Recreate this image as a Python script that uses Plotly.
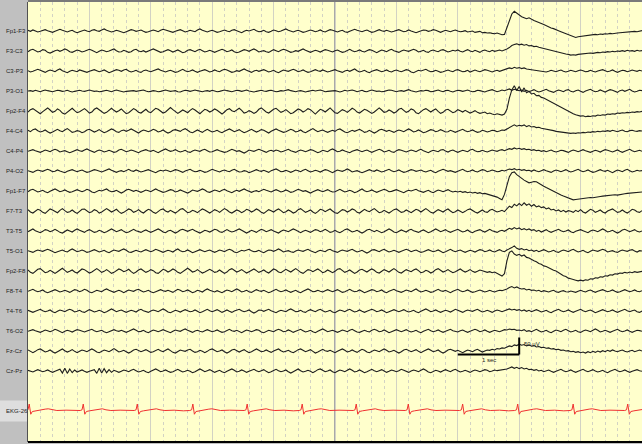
import numpy as np
import plotly.graph_objects as go

# ---------------- data (µV, sampled every 0.04 s over 10 s) ----------------
channel_names = ["Fp1-F3", "F3-C3", "C3-P3", "P3-O1", "Fp2-F4", "F4-C4", "C4-P4", "P4-O2",
                 "Fp1-F7", "F7-T3", "T3-T5", "T5-O1", "Fp2-F8", "F8-T4", "T4-T6", "T6-O2",
                 "Fz-Cz", "Cz-Pz"]
ekg_name = "EKG-26"
sample_dt = 0.04

fp1_f3 = [2,-1,3,0,-3,-1,2,4,1,-2,-4,-1,3,5,2,-1,-3,0,2,-2,-5,-2,1,3,0,
          -2,2,4,1,-1,3,6,2,-1,-3,-1,2,0,-3,-5,-2,1,4,2,-1,1,3,-1,-4,-2,
          0,3,1,-2,2,5,3,0,-2,-4,-1,2,4,1,-3,-1,2,0,-2,3,6,2,-1,-3,0,
          2,-1,-4,-2,1,3,0,-2,2,4,1,-3,-5,-1,2,0,3,5,1,-2,-1,2,-2,-4,-1,
          3,1,-2,0,4,6,2,-1,-3,0,2,-1,-4,-2,1,3,1,-2,0,3,-1,-3,1,4,2,
          -1,-3,0,2,-2,-4,-1,3,5,2,0,-2,1,3,-1,-4,-2,2,4,1,-1,2,0,-3,-1,
          2,4,1,-2,-1,3,0,-3,-5,-2,1,3,2,-1,1,4,2,-2,-4,-1,2,0,-2,1,3,
          0,-2,-1,1,-3,-2,0,-4,-3,-1,-5,-4,-6,-5,-7,-8,-6,-9,-11,-10,12,35,50,58,52,
          47,42,39,36,39,34,31,28,26,22,19,15,13,9,7,3,1,-2,-5,-8,-11,-14,-17,-19,-17,
          -16,-15,-13,-14,-12,-12,-10,-11,-9,-10,-8,-9,-7,-8,-6,-6,-5,-4,-5,-3,-3,-2,-1,-2,0,
          1]
f3_c3 = [-2,3,5,1,-3,-1,4,2,-4,-6,-2,1,3,-1,2,6,3,-2,-4,0,3,1,-3,-1,2,
         5,2,-2,-5,-1,3,1,-2,0,4,6,1,-3,-2,2,-1,-4,-2,3,5,0,-2,1,-3,-1,
         3,6,2,-1,-4,-2,1,4,1,-3,0,3,-1,-5,-3,2,4,1,-2,2,5,1,-3,-1,2,
         -1,-4,-1,3,5,2,-2,0,3,-2,-5,-3,1,4,2,-1,3,6,2,-3,-1,1,-2,-4,0,
         4,1,-2,2,5,3,-1,-4,-2,1,-1,3,6,2,-2,-4,-1,2,0,-3,1,4,2,-1,-3,
         1,3,-1,-4,-2,2,5,1,-2,0,3,-1,-3,1,4,2,-2,-5,-1,3,1,-2,2,5,1,
         -2,-4,0,3,1,-1,2,5,2,-3,-1,2,-2,-4,1,3,0,-2,2,4,1,-3,-1,2,0,
         3,-1,-3,1,4,0,-2,2,-1,-4,1,3,0,-2,2,-1,1,3,0,2,6,10,16,19,21,
         18,20,17,19,15,16,13,14,11,9,8,6,4,3,1,-1,-3,-5,-7,-9,-10,-12,-11,-12,-10,
         -9,-8,-9,-7,-6,-7,-5,-4,-5,-3,-4,-2,-3,-1,-2,0,-1,1,-1,2,0,1,-1,2,0,
         1]
c3_p3 = [1,-3,-1,2,5,2,-2,-4,0,3,1,-2,3,6,1,-3,-5,-1,2,0,-2,3,1,-1,-4,
         -1,2,4,1,-2,0,3,-1,-5,-2,1,4,2,-1,3,5,0,-3,-1,2,-2,-4,1,3,0,
         -2,1,4,6,2,-1,-3,0,2,-1,-4,-2,2,5,1,-2,0,3,-1,-4,-1,2,4,1,-3,
         -1,3,0,-2,2,5,3,-1,-4,-2,1,-1,3,6,2,-2,-4,0,2,-1,1,4,1,-3,-1,
         2,-2,-5,-1,3,1,-1,2,5,2,-2,0,3,-1,-4,-2,1,4,1,-1,3,0,-3,-1,2,
         4,1,-2,-4,0,2,-1,3,6,1,-3,-1,2,-2,-5,-1,2,4,1,-2,0,3,-1,-3,1,
         3,0,-2,1,4,2,-3,-5,-1,2,0,3,5,1,-2,-1,2,-1,-4,-2,1,3,0,-2,2,
         4,1,-2,-1,2,-3,-1,3,0,-2,1,4,2,-1,-3,0,2,-1,1,3,6,9,7,11,8,
         10,7,9,6,5,3,4,1,2,-1,0,-3,-1,2,0,-2,1,3,-1,-3,-1,2,0,-2,1,
         3,1,-2,-1,2,-1,-3,0,2,4,1,-2,0,3,-1,-4,-1,2,1,-2,0,3,1,-1,2,
         0]
p3_o1 = [0,1,-1,2,0,-2,1,3,1,-1,-2,0,2,1,-1,0,2,-1,-3,-1,1,2,0,-1,1,
         3,1,-1,0,-2,-1,1,2,0,-2,1,3,1,-1,-3,-1,0,2,1,-1,0,2,3,0,-2,
         -1,1,0,-2,-1,2,3,1,-1,0,1,-2,-3,0,2,1,-1,1,3,1,-1,-2,0,1,-1,
         2,0,-2,-1,1,3,1,-1,-2,0,2,1,-1,1,3,0,-2,-3,-1,1,2,0,-1,1,2,
         0,-2,-1,1,0,2,4,1,-1,-2,0,1,-1,-3,-1,1,2,0,1,3,1,-2,-1,0,2,
         1,-1,-3,-1,2,0,1,3,1,-2,0,2,-1,-2,1,3,1,-1,0,-2,-1,1,3,2,-1,
         -2,0,1,-1,2,4,1,-1,-3,-1,1,0,2,1,-2,-1,1,3,0,-2,1,2,-1,-3,0,
         2,1,-1,1,3,0,-2,-1,2,1,-1,-3,0,2,4,1,-2,0,3,1,4,6,2,5,3,
         1,3,-1,2,-2,1,4,0,-3,-1,2,5,1,-2,-4,0,3,1,-2,2,4,-1,-3,1,3,
         -1,-4,0,2,5,1,-2,-1,3,0,-3,1,4,2,-2,-4,1,3,-1,2,5,0,-3,-1,2,
         1]
fp2_f4 = [-3,4,7,2,-5,-8,-2,5,9,3,-4,-1,6,2,-6,-9,-3,4,8,1,-5,-2,3,7,1,
          -6,-3,5,9,4,-2,-7,-4,3,8,2,-3,1,6,-1,-8,-5,2,7,3,-4,-6,1,5,-2,
          -5,2,8,5,-1,-6,-3,4,10,4,-3,-7,-2,3,-1,-5,2,7,3,-4,-8,-1,5,2,-3,
          1,6,2,-5,-9,-3,4,7,1,-2,3,8,2,-6,-4,1,-2,-7,-3,5,9,3,-3,-6,0,
          5,8,1,-4,-1,4,-2,-8,-5,2,6,3,-3,1,7,4,-4,-9,-2,5,2,-3,3,9,2,
          -5,-7,-1,4,1,-4,2,8,4,-3,-6,0,5,2,-2,-7,-3,4,9,3,-4,-2,3,-1,-6,
          -2,5,8,2,-4,-1,6,3,-5,-8,-2,4,7,1,-3,2,6,-1,-7,-4,3,5,0,-5,-2,
          4,1,-3,2,-2,-6,-3,1,-4,-7,-5,-3,-8,-6,-9,-11,-8,-10,-12,-9,5,38,62,74,60,
          72,56,68,54,58,50,52,45,46,40,38,34,30,27,22,18,14,10,6,3,-1,-4,-8,-11,-13,
          -15,-14,-17,-15,-16,-14,-15,-12,-13,-11,-12,-9,-10,-8,-9,-6,-7,-5,-6,-4,-5,-3,-4,-2,-3,
          -1]
f4_c4 = [2,-2,4,6,1,-3,-1,3,-2,-6,-3,2,5,1,-2,3,7,2,-4,-2,1,-1,-5,-2,3,
         5,1,-3,0,4,-1,-5,-2,2,6,3,-2,-4,1,3,-1,2,6,2,-3,-6,-1,3,1,-2,
         1,5,2,-3,-1,3,-2,-6,-3,2,4,1,-1,4,7,2,-3,-5,0,3,-1,-4,1,5,1,
         -3,-1,2,-2,-5,-1,3,6,2,-2,1,4,-1,-5,-2,2,5,1,-3,0,4,2,-2,-6,-1,
         3,6,2,-1,-4,-2,1,5,2,-3,-1,3,-2,-5,-1,4,7,2,-2,1,3,-1,-4,-1,2,
         -1,4,6,1,-3,-5,-1,2,-1,3,5,1,-4,-2,2,-2,-6,-2,3,5,1,-1,2,-2,-4,
         0,3,1,-2,2,6,2,-3,-1,3,-1,-5,-3,1,4,2,-2,0,4,1,-3,-2,2,-1,-4,
         -1,3,5,1,-2,0,3,-1,-4,-2,2,0,-3,-1,2,1,-2,0,3,2,6,11,15,18,14,
         17,15,18,13,16,12,13,10,11,8,7,6,3,4,1,-1,-2,-4,-3,-6,-5,-7,-6,-7,-5,
         -6,-4,-5,-3,-4,-2,-3,-1,-2,0,-1,1,-1,2,0,-2,1,3,-1,-2,1,2,0,-1,1,
         0]
c4_p4 = [-1,2,4,1,-2,-4,-1,3,1,-2,2,5,2,-3,-1,1,-2,-5,-2,2,4,1,-1,3,6,
         2,-2,-4,0,3,1,-3,-1,2,-1,-4,-2,3,5,1,-2,0,3,1,-2,-5,-1,2,4,1,
         -1,2,-2,-5,-1,3,6,2,-1,1,4,0,-3,-1,2,-2,-4,0,3,1,-1,3,5,1,-3,
         -2,1,4,1,-1,-4,-2,2,5,2,-1,1,-2,-6,-2,3,1,-1,2,5,2,-2,-4,0,2,
         -1,3,1,-3,-1,2,5,1,-2,-4,0,3,1,-2,1,4,2,-1,-5,-2,2,0,-2,3,6,
         2,-2,-1,3,0,-3,-5,-1,2,4,1,-2,1,3,-1,-4,-1,2,5,2,-3,-1,2,-2,-4,
         1,4,2,-1,-3,0,3,1,-2,2,5,1,-3,-5,-1,2,0,-2,3,4,0,-3,1,3,-1,
         -4,-1,2,0,-2,3,5,1,-2,-1,2,-1,-3,0,3,1,-1,2,4,1,4,7,5,9,6,
         8,5,7,4,5,2,4,1,2,-1,1,-2,0,3,-1,-3,-1,2,1,-2,-4,0,3,1,-2,
         1,4,1,-2,-4,-1,2,0,-3,1,4,2,-1,-3,0,3,-1,-4,-1,2,5,1,-2,0,2,
         -1]
p4_o2 = [1,-2,-4,0,3,1,-1,2,5,2,-2,-1,3,0,-3,-5,-1,2,4,1,-2,1,3,-1,-4,
         -2,1,4,2,-1,-3,0,3,6,2,-2,-4,-1,1,-2,2,5,1,-1,3,0,-3,-1,2,4,
         1,-3,-5,-1,2,0,3,1,-2,1,4,2,-2,-4,0,3,5,1,-2,-1,2,-1,-4,-2,2,
         5,2,-1,-3,1,3,0,-2,2,5,1,-3,-2,1,-1,-5,-2,2,4,1,-1,2,-2,-4,1,
         3,6,2,-2,-1,2,-1,-4,-1,3,1,-2,2,5,1,-3,-1,2,0,-3,1,4,2,-2,-5,
         -1,3,1,-1,2,6,2,-3,-1,1,-2,-5,-2,2,4,1,-1,3,0,-3,-1,2,5,1,-2,
         0,3,-1,-4,-2,1,4,2,-1,1,3,-1,-3,0,2,-2,-5,-1,3,5,2,-1,1,-2,-4,
         -1,2,5,1,-2,0,3,-1,-3,1,4,2,-2,0,3,1,-2,-1,2,0,3,6,4,7,3,
         5,2,4,1,2,-1,3,0,-2,1,4,1,-2,-4,0,3,1,-2,1,4,0,-3,-1,2,5,
         1,-2,0,3,-1,-4,-2,2,4,1,-1,2,-2,-5,-1,3,1,-2,2,5,1,-3,-1,2,0,
         1]
fp1_f7 = [-2,3,5,1,-3,-1,2,-2,-5,-1,3,6,2,-2,0,3,-1,-4,-2,2,4,1,-2,1,5,
          2,-3,-5,-1,2,0,3,6,1,-2,-1,2,-2,-6,-2,3,5,1,-1,2,-1,-4,-1,3,1,
          -2,2,6,2,-1,-4,-2,1,4,2,-3,-1,3,0,-3,-6,-2,3,1,-1,2,6,3,-2,-4,
          0,3,1,-2,2,5,1,-3,-5,-1,2,-1,3,6,2,-2,-4,-1,1,-2,2,5,2,-1,-3,
          1,4,1,-3,-1,3,0,-4,-2,2,5,2,-1,1,-3,-6,-2,2,4,1,-2,1,4,0,-3,
          -2,2,5,1,-3,-1,2,-1,-5,-2,3,6,1,-2,0,3,-1,-4,-1,2,5,2,-2,-1,1,
          4,1,-3,-5,-1,2,0,3,5,1,-2,-4,-1,2,-2,-5,-1,3,1,-2,1,4,0,-3,-1,
          -3,-1,-4,-2,-5,-3,-6,-4,-7,-5,-8,-7,-9,-10,-12,-14,-18,-22,-26,-10,20,42,54,56,48,
          42,36,32,28,24,26,28,27,22,18,14,10,6,2,-1,-4,-8,-12,-15,-18,-22,-24,-26,-25,-24,
          -22,-23,-21,-21,-19,-20,-18,-17,-16,-15,-14,-13,-14,-12,-11,-12,-10,-9,-8,-7,-6,-7,-5,-4,-4,
          -3]
f7_t3 = [4,-3,-6,1,5,2,-4,-7,0,6,3,-2,-5,2,7,1,-4,-2,3,-3,-7,-1,5,6,-1,
         -5,-2,4,1,-6,-3,3,7,2,-3,1,5,-2,-7,-4,2,6,3,-4,-1,4,-2,-6,0,5,
         2,-4,-7,-1,4,6,0,-3,2,-2,-6,-1,5,7,1,-5,-3,2,-1,-5,1,6,3,-2,-6,
         -1,4,1,-4,2,7,3,-3,-6,-2,3,0,-5,-1,5,2,-3,1,6,2,-4,-7,-2,4,1,
         -3,2,6,1,-5,-2,3,-1,-6,-3,4,7,2,-4,-1,3,-3,-7,-2,5,3,-2,2,6,0,
         -5,-7,-1,4,2,-3,1,6,3,-4,-6,0,5,1,-2,3,7,1,-5,-3,2,-2,-6,-1,4,
         6,1,-4,-2,3,-1,-5,0,5,2,-3,2,7,2,-4,-6,-1,4,1,-3,2,6,0,-5,-2,
         3,-1,-5,-1,4,6,1,-3,-6,-1,3,-2,-4,2,5,1,-3,-1,2,-2,6,14,10,20,15,
         22,16,24,17,21,14,19,12,15,10,12,6,9,3,5,0,3,-2,2,-3,1,-1,-4,2,-2,
         4,-3,-6,1,5,2,-4,-1,3,-3,-6,0,4,6,1,-4,-2,3,-2,-6,-1,5,3,-2,-4,
         1]
t3_t5 = [-2,3,6,1,-3,-5,-1,4,2,-2,1,5,1,-4,-6,-1,3,0,-3,2,6,2,-2,-4,1,
         4,0,-4,-2,2,-1,-5,-2,3,6,2,-2,1,4,-1,-5,-3,2,5,1,-2,-4,0,3,-1,
         -4,-1,3,6,2,-3,-5,0,2,-2,-6,-2,3,5,1,-1,2,5,1,-3,-6,-2,2,0,-3,
         1,5,3,-2,-4,1,4,0,-3,-1,3,6,2,-3,-6,-2,2,-1,-4,1,5,2,-2,1,4,
         0,-4,-6,-1,3,1,-2,2,6,3,-2,-5,-1,2,-1,-4,0,4,2,-2,1,5,1,-4,-2,
         2,-2,-5,-1,4,6,1,-3,-1,2,-2,-6,-2,3,5,1,-2,2,-1,-5,-2,2,6,2,-3,
         -5,-1,3,0,-3,2,5,1,-2,-4,0,3,-1,-5,-2,3,6,2,-2,1,4,-1,-4,-1,2,
         5,1,-3,-1,3,-2,-5,-1,2,4,0,-3,1,5,1,-2,-4,0,2,-1,4,8,5,10,6,
         9,4,7,3,6,2,4,-1,2,-3,1,4,-1,-4,-1,3,5,1,-2,0,3,-2,-5,-1,2,
         4,1,-3,-5,0,3,1,-2,2,6,2,-3,-1,2,-2,-6,-2,3,5,1,-2,1,4,-1,-3,
         0]
t5_o1 = [1,-2,-4,0,3,1,-1,2,5,2,-2,-5,-2,1,3,-1,-3,2,6,2,-2,0,3,0,-4,
         -2,2,4,1,-3,-1,2,-2,-5,-1,3,1,-1,3,6,2,-3,-4,0,2,-1,-3,1,4,1,
         -2,1,5,2,-2,-4,-1,2,0,-3,2,6,1,-2,-1,3,-1,-5,-2,2,4,1,-2,1,3,
         -1,-4,-1,3,1,-2,2,5,2,-3,-5,-1,2,0,3,5,1,-2,-1,2,-2,-5,-1,3,2,
         -1,2,6,2,-3,-1,1,-2,-4,0,3,1,-1,2,5,1,-3,-5,-1,2,0,-2,3,5,1,
         -2,-4,0,3,1,-1,2,5,1,-3,-1,2,-2,-6,-2,3,4,0,-2,2,5,1,-3,-1,2,
         -1,-4,-1,2,5,2,-2,1,3,-1,-4,-2,2,4,1,-2,0,3,-1,-5,-2,2,5,1,-2,
         1,3,-1,-4,-1,2,0,-3,1,4,2,-2,0,3,-1,-3,1,4,0,-2,3,6,10,15,8,
         5,7,3,5,1,3,-1,2,-2,1,4,1,-3,-1,2,-2,-4,0,3,1,-2,2,5,1,-3,
         -1,2,-2,-5,-1,3,1,-1,2,5,2,-3,-1,1,-2,-4,0,3,1,-1,2,4,0,-3,1,
         0]
fp2_f8 = [3,-4,-7,-1,5,7,1,-5,-3,2,-2,-7,-2,4,8,2,-4,-1,3,-3,-6,0,6,4,-2,
          -6,-3,3,7,2,-4,-1,4,-1,-7,-4,2,6,3,-2,1,5,-2,-7,-3,3,6,1,-4,-1,
          4,1,-5,-7,-1,5,2,-3,1,6,2,-4,-7,-2,3,8,3,-3,-1,4,-1,-6,-3,2,5,
          1,-4,-2,3,-2,-7,-3,4,7,2,-3,0,4,-1,-6,-2,3,6,1,-4,-1,3,-2,-6,0,
          6,3,-3,-5,1,5,1,-3,2,7,2,-4,-7,-1,4,2,-2,2,6,1,-5,-2,3,-1,-5,
          -1,5,7,1,-4,-1,3,-2,-7,-3,3,5,0,-3,2,6,2,-4,-6,0,4,1,-3,2,7,
          2,-4,-6,-1,4,1,-2,3,6,1,-5,-3,2,-1,-6,-2,4,7,2,-3,0,4,-1,-5,-2,
          3,6,1,-3,0,4,-1,-4,-1,3,1,-2,-4,-2,-5,-3,-7,-10,-15,-8,30,55,59,50,46,
          49,44,47,40,38,33,30,27,22,20,15,13,9,7,2,0,-5,-9,-14,-16,-21,-23,-26,-27,-29,
          -27,-29,-26,-27,-23,-24,-20,-21,-17,-18,-14,-15,-11,-12,-8,-9,-6,-7,-4,-6,-3,-5,-2,-4,-2,
          -1]
f8_t4 = [-1,3,5,1,-2,0,3,-2,-5,-2,2,4,1,-3,-1,2,-1,-4,0,4,2,-2,1,5,2,
         -3,-5,-1,2,0,-2,3,6,2,-2,-4,-1,2,-1,-5,-1,3,1,-1,3,5,1,-3,-1,2,
         -2,-5,-2,2,4,1,-1,2,-2,-4,1,5,2,-2,0,3,-1,-5,-2,2,0,-3,2,6,2,
         -1,-3,1,-2,-5,-1,3,1,-2,2,6,2,-3,-1,2,-2,-4,0,4,1,-1,2,-1,-5,-2,
         2,5,1,-2,0,3,-1,-4,-1,2,-2,-5,-1,3,6,2,-2,-1,2,-1,-3,1,4,1,-2,
         1,4,0,-4,-2,2,5,1,-2,-1,3,-1,-5,-2,1,4,2,-2,0,3,-2,-5,-1,2,5,
         1,-2,-4,-1,3,1,-2,2,6,1,-3,-1,2,-1,-4,-2,2,5,1,-1,2,-2,-5,-1,3,
         5,1,-2,0,3,-1,-4,-2,1,3,0,-3,-1,2,-1,-3,0,2,1,3,6,10,13,9,12,
         8,6,7,3,5,2,3,0,2,-2,1,-1,-3,0,2,-2,-4,-1,1,-2,-3,0,-2,-4,-1,
         2,-1,-3,1,3,-1,-4,-1,2,4,1,-2,0,3,-1,-4,-2,2,4,1,-2,0,3,-1,-2,
         1]
t4_t6 = [2,-1,-4,-1,3,5,1,-2,0,3,-2,-5,-1,3,1,-2,2,5,2,-3,-1,2,-2,-4,0,
         4,1,-3,-1,2,-1,-5,-2,3,6,2,-2,1,3,-1,-4,-1,2,0,-3,2,5,1,-2,-4,
         0,3,1,-2,2,6,2,-3,-5,-1,2,0,-3,1,4,1,-2,-1,3,-1,-5,-2,2,5,1,
         -2,1,4,0,-4,-1,3,-1,-4,0,3,5,1,-2,0,3,-2,-6,-2,3,2,-1,2,5,1,
         -3,-5,-1,2,0,-2,3,6,2,-2,-1,2,-2,-4,1,4,1,-2,2,5,1,-3,-1,2,-3,
         -5,-1,3,1,-2,2,5,1,-3,-1,3,-1,-4,-1,2,5,2,-2,0,3,-1,-5,-2,2,4,
         1,-2,1,4,0,-3,-1,2,-2,-5,-1,3,6,2,-2,0,3,-1,-4,-1,2,0,-3,1,5,
         2,-2,-4,0,3,1,-1,2,5,1,-3,-1,2,-1,-4,0,3,1,-2,1,4,6,3,5,2,
         4,0,3,-1,2,-2,1,4,1,-3,-1,2,-2,-5,-1,3,5,1,-2,0,3,-1,-4,-1,2,
         5,1,-2,1,3,-1,-5,-2,2,4,1,-2,0,3,-1,-4,-1,3,5,1,-2,1,3,-2,-4,
         0]
t6_o2 = [-1,2,4,1,-2,-4,-1,3,1,-2,1,5,2,-2,-5,-1,2,0,-3,1,4,2,-1,-3,0,
         3,5,1,-2,0,2,-2,-5,-2,2,4,1,-1,2,-1,-4,-1,3,6,2,-2,-1,2,-2,-5,
         -1,3,1,-2,1,4,1,-3,-5,-1,3,1,-1,3,6,2,-2,-4,0,2,-1,-3,1,4,1,
         -2,0,3,-1,-4,-2,2,5,1,-1,2,-2,-5,-1,3,1,-2,1,4,2,-3,-5,-1,2,0,
         -2,2,5,2,-2,-1,3,0,-4,-1,2,5,1,-3,-1,2,-2,-5,-1,3,6,2,-2,0,2,
         -1,-4,-1,3,1,-2,2,5,1,-3,-4,0,2,-1,-3,2,5,2,-2,-1,3,-1,-5,-2,2,
         4,1,-2,1,4,0,-3,-1,2,-2,-5,-1,3,5,1,-2,0,3,-1,-4,-1,2,5,1,-2,
         -3,1,3,-1,-4,-1,2,5,2,-2,0,3,-1,-4,-1,2,0,-2,1,4,3,6,4,5,2,
         3,1,4,-1,1,-2,2,5,1,-3,-1,2,-2,-5,-1,3,1,-2,2,5,1,-3,-1,2,-2,
         -4,0,3,1,-2,2,6,2,-3,-1,2,-1,-4,-1,3,5,1,-2,0,3,-1,-4,-1,2,1,
         -1]
fz_cz = [3,-2,-5,-1,4,6,2,-3,-1,3,-2,-6,-2,3,6,1,-3,0,4,-1,-5,-1,3,1,-2,
         2,6,2,-3,-5,-1,3,1,-2,2,7,2,-3,-1,2,-2,-6,-2,3,5,1,-2,1,4,0,
         -4,-2,2,5,1,-2,2,6,1,-4,-6,-1,3,1,-1,3,5,0,-4,-2,2,-1,-5,-1,4,
         6,2,-2,0,3,-2,-6,-2,3,5,1,-3,1,4,-1,-5,-2,2,6,2,-2,-1,3,-1,-4,
         0,3,6,1,-3,-1,2,-2,-5,-1,4,6,2,-2,1,4,-1,-6,-3,2,5,1,-1,2,-2,
         -5,-1,3,6,2,-3,-1,3,-1,-4,1,5,2,-3,-5,0,3,1,-2,2,6,2,-3,-1,2,
         -2,-6,-2,3,5,1,-2,1,4,-1,-5,-1,3,6,2,-2,0,3,-2,-6,-2,3,5,1,-1,
         2,-2,-5,-1,3,1,-2,2,5,1,-3,0,3,2,5,3,7,6,9,8,12,15,13,18,16,
         20,17,19,15,18,14,16,12,13,10,11,8,9,6,7,4,5,2,3,0,1,-2,-1,-4,-2,
         -5,-3,-6,-2,-5,-1,-4,0,-3,1,-2,2,-1,3,0,-2,1,3,-1,-3,0,2,-2,1,3,
         0]
cz_pz = [2,-1,-3,1,4,1,-2,0,3,-1,-4,-1,2,5,-6,8,-7,6,-5,3,-3,1,3,-1,-4,
         -1,2,4,-7,8,-6,7,-5,4,-4,2,-1,-4,-1,3,1,-2,2,5,1,-3,-1,2,-2,-5,
         -1,3,6,2,-2,0,3,-1,-4,-2,2,5,1,-3,-1,2,-1,-5,-2,3,6,2,-2,1,4,
         0,-4,-1,2,-2,-5,-1,3,6,2,-3,-1,3,0,-4,-1,2,5,1,-2,1,4,-1,-5,-2,
         2,5,1,-2,0,3,-2,-6,-2,3,6,1,-3,-1,2,-1,-5,-1,4,6,2,-2,0,3,-2,
         -5,-1,3,1,-2,2,6,2,-3,-1,3,-1,-5,-2,2,5,1,-2,1,4,0,-4,-1,3,1,
         -2,1,5,2,-2,-4,0,3,1,-2,2,6,2,-3,-5,-1,2,0,-3,1,4,1,-2,2,5,
         1,-3,-1,2,-1,-4,0,3,1,-2,1,4,2,-2,0,3,1,2,4,3,6,9,12,8,11,
         7,10,6,8,4,5,2,4,0,2,-2,1,3,-1,-4,-1,2,5,1,-2,0,3,-1,-4,-1,
         2,5,1,-2,1,4,0,-3,-1,2,-2,-5,-1,3,5,1,-2,0,3,-1,-4,-1,2,4,1,
         -1]

# EKG: R-peak times (s) and one beat shape (offset s, value)
ekg_beat_times = [0.02, 0.90, 1.78, 2.685, 3.57, 4.466, 5.346, 6.194, 7.079, 7.976, 8.879, 9.768]
beat_offsets = [-0.05, -0.02, 0.0, 0.025, 0.05, 0.10, 0.18, 0.26, 0.31, 0.37, 0.45, 0.60, 0.75]
beat_values = [0, 2, 19, -11, -3, -1, 1, 4, 5, 2, 0, 1, -1]

eeg_data = [fp1_f3, f3_c3, c3_p3, p3_o1, fp2_f4, f4_c4, c4_p4, p4_o2,
            fp1_f7, f7_t3, t3_t5, t5_o1, fp2_f8, f8_t4, t4_t6, t6_o2, fz_cz, cz_pz]

# ---------------- drawing ----------------
GAIN = 0.34          # px per µV
ROW0, ROW_STEP = 31, 20
EKG_ROW = 410.5

fig = go.Figure()
for i, vals in enumerate(eeg_data):
    base = ROW0 + ROW_STEP * i
    t = np.arange(len(vals)) * sample_dt
    fig.add_trace(go.Scatter(x=t, y=base - np.array(vals) * GAIN, mode="lines",
                             line=dict(color="#1e1e1e", width=1.1), hoverinfo="skip",
                             showlegend=False))

ekg_t, ekg_v = [], []
for bt in ekg_beat_times:
    for off, val in zip(beat_offsets, beat_values):
        ekg_t.append(bt + off)
        ekg_v.append(val)
fig.add_trace(go.Scatter(x=ekg_t, y=EKG_ROW - np.array(ekg_v) * GAIN, mode="lines",
                         line=dict(color="#f03030", width=1), hoverinfo="skip",
                         showlegend=False))

# channel labels
lab_font = dict(family="Liberation Sans, Arial", size=6, color="#222222")
for i, name in enumerate(channel_names):
    fig.add_annotation(x=-24 / 614, xref="paper", y=ROW0 + ROW_STEP * i, yref="y",
                       text=name, showarrow=False, xanchor="left", yanchor="middle",
                       font=lab_font)
fig.add_annotation(x=-24 / 614, xref="paper", y=EKG_ROW, yref="y", text=ekg_name,
                   showarrow=False, xanchor="left", yanchor="middle", font=lab_font)

shapes = []
# EKG label box
shapes.append(dict(type="rect", xref="paper", yref="y", x0=-28 / 614, x1=0, y0=400.5, y1=421.5,
                   fillcolor="#dedede", line=dict(width=0), layer="below"))
# 5-second marker line
shapes.append(dict(type="line", xref="x", yref="paper", x0=5, x1=5, y0=0, y1=1,
                   line=dict(color="#a8a8a8", width=2), layer="below"))
# top and bottom borders
shapes.append(dict(type="rect", xref="paper", yref="paper", x0=0, x1=1, y0=1, y1=1 + 2 / 440,
                   fillcolor="#7a7a7a", line=dict(width=0)))
shapes.append(dict(type="line", xref="paper", yref="paper", x0=0, x1=1, y0=0, y1=0,
                   line=dict(color="#000000", width=2)))
# calibration bar: 1 s by 50 µV
cal_y = ROW0 + ROW_STEP * 16 + 3.5
shapes.append(dict(type="line", xref="x", yref="y", x0=7, x1=8, y0=cal_y, y1=cal_y,
                   line=dict(color="#000000", width=2)))
shapes.append(dict(type="line", xref="x", yref="y", x0=8, x1=8, y0=cal_y, y1=cal_y - 50 * GAIN,
                   line=dict(color="#000000", width=2)))
fig.add_annotation(x=7.5, y=cal_y + 5, xref="x", yref="y", text="1 sec", showarrow=False,
                   font=dict(family="Liberation Sans, Arial", size=6, color="#222222"))
fig.add_annotation(x=8.04, y=cal_y - 11, xref="x", yref="y", text="50 µV", showarrow=False,
                   xanchor="left", font=dict(family="Liberation Sans, Arial", size=6, color="#222222"))

fig.update_layout(
    width=642, height=444,
    margin=dict(l=28, r=0, t=2, b=2),
    paper_bgcolor="#c0c0c0",
    plot_bgcolor="#ffffcc",
    shapes=shapes,
    xaxis=dict(range=[0, 10], showticklabels=False, ticks="", zeroline=False,
               tick0=0, dtick=1, showgrid=True, gridcolor="#d2d2c4", gridwidth=1,
               minor=dict(tick0=0, dtick=0.2, showgrid=True, gridcolor="#d2d2c4",
                          griddash="3px,3px", gridwidth=1)),
    yaxis=dict(range=[442, 2], showticklabels=False, ticks="", zeroline=False,
               showgrid=False, showline=True, linecolor="#505050", linewidth=1),
)

fig.write_html("out.html", config={"displayModeBar": False},
               post_script="document.body.style.margin='0';document.body.style.background='#c0c0c0';")
